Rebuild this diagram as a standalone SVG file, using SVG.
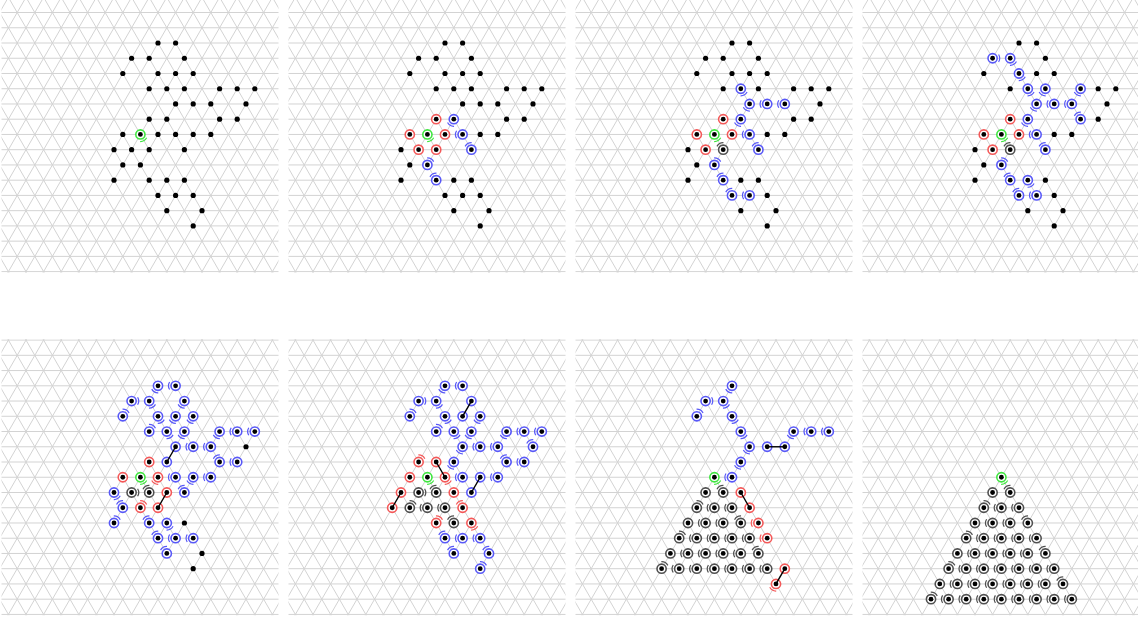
<svg xmlns="http://www.w3.org/2000/svg" xmlns:xlink="http://www.w3.org/1999/xlink" width="1138" height="621" viewBox="0 0 1138 621">
<style>
.gl{fill:none;stroke:#d3d3d3;stroke-width:1}
.rb{fill:#fff;stroke:#5858f8;stroke-width:1.6}
.rr{fill:#fff;stroke:#f45858;stroke-width:1.6}
.rg{fill:#fff;stroke:#3ee63e;stroke-width:1.6}
.rk{fill:#fff;stroke:#505050;stroke-width:1.6}
.mb{fill:none;stroke:#5858f8;stroke-width:1.2}
.mr{fill:none;stroke:#f45858;stroke-width:1.2}
.mg{fill:none;stroke:#3ee63e;stroke-width:1.2}
.mk{fill:none;stroke:#505050;stroke-width:1.2}
.cn{stroke:#000;stroke-width:1.4;fill:none}
</style>
<defs>
<clipPath id="gc" clipPathUnits="userSpaceOnUse"><rect x="-156.5" y="-46.6" width="277" height="276"/></clipPath>
<path id="la" d="M-27.28,-47.25L132.88,230.15"/>
<path id="lb" d="M27.28,-47.25L-132.88,230.15"/>
<g id="gA"><use href="#la"/><use href="#la" x="17.6"/><use href="#la" x="35.2"/><use href="#la" x="52.8"/><use href="#la" x="70.4"/></g>
<g id="gB"><use href="#lb"/><use href="#lb" x="17.6"/><use href="#lb" x="35.2"/><use href="#lb" x="52.8"/><use href="#lb" x="70.4"/></g>
<g id="grid" class="gl" clip-path="url(#gc)">
<path d="M-157 -45.73H121M-157 -30.48H121M-157 -15.24H121M-157 0H121M-157 15.24H121M-157 30.48H121M-157 45.73H121M-157 60.97H121M-157 76.21H121M-157 91.45H121M-157 106.69H121M-157 121.94H121M-157 137.18H121M-157 152.42H121M-157 167.66H121M-157 182.9H121M-157 198.15H121M-157 213.39H121M-157 228.63H121"/>
<use href="#gA" x="-281.6"/><use href="#gA" x="-193.6"/><use href="#gA" x="-105.6"/><use href="#gA" x="-17.6"/><use href="#gA" x="70.4"/>
<use href="#gB" x="-176"/><use href="#gB" x="-88"/><use href="#gB" x="0"/><use href="#gB" x="88"/><use href="#gB" x="176"/>
</g>
<circle id="D" r="2.6"/>
<g id="B"><circle r="4.6" class="rb"/><circle r="2.4"/></g>
<g id="R"><circle r="4.6" class="rr"/><circle r="2.4"/></g>
<g id="G"><circle r="4.6" class="rg"/><circle r="2.4"/></g>
<g id="K"><circle r="4.6" class="rk"/><circle r="2.4"/></g>
<path id="m" d="M6,-3.75A7.1,7.1 0 0 1 6,3.75"/>
<g id="BE"><use href="#B"/><use href="#m" class="mb"/></g>
<g id="BSE"><use href="#B"/><use href="#m" class="mb" transform="rotate(60)"/></g>
<g id="BSW"><use href="#B"/><use href="#m" class="mb" transform="rotate(120)"/></g>
<g id="BW"><use href="#B"/><use href="#m" class="mb" transform="rotate(180)"/></g>
<g id="BNW"><use href="#B"/><use href="#m" class="mb" transform="rotate(240)"/></g>
<g id="BNE"><use href="#B"/><use href="#m" class="mb" transform="rotate(300)"/></g>
<g id="RSE"><use href="#R"/><use href="#m" class="mr" transform="rotate(60)"/></g>
<g id="RSW"><use href="#R"/><use href="#m" class="mr" transform="rotate(120)"/></g>
<g id="RW"><use href="#R"/><use href="#m" class="mr" transform="rotate(180)"/></g>
<g id="RNW"><use href="#R"/><use href="#m" class="mr" transform="rotate(240)"/></g>
<g id="RNE"><use href="#R"/><use href="#m" class="mr" transform="rotate(300)"/></g>
<g id="GSE"><use href="#G"/><use href="#m" class="mg" transform="rotate(60)"/></g>
<g id="KE"><use href="#K"/><use href="#m" class="mk"/></g>
<g id="KW"><use href="#K"/><use href="#m" class="mk" transform="rotate(180)"/></g>
<g id="KNW"><use href="#K"/><use href="#m" class="mk" transform="rotate(240)"/></g>
<g id="KNE"><use href="#K"/><use href="#m" class="mk" transform="rotate(300)"/></g>
</defs>
<rect width="1138" height="621" fill="#fff"/>
<g id="grids">
<use href="#grid" x="158" y="43"/><use href="#grid" x="445" y="43"/><use href="#grid" x="732" y="43"/><use href="#grid" x="1019" y="43"/>
<use href="#grid" x="158" y="385.8"/><use href="#grid" x="445" y="385.8"/><use href="#grid" x="732" y="385.8"/><use href="#grid" x="1019" y="385.8"/>
</g>
<g id="panel1" transform="translate(158,43)">
<g id="a1"><use href="#D" x="0" y="0"/></g><g id="a2"><use href="#D" x="17.6" y="0"/></g>
<g id="a3"><use href="#D" x="-26.4" y="15.24"/></g><g id="a4"><use href="#D" x="-8.8" y="15.24"/></g><g id="a5"><use href="#D" x="26.4" y="15.24"/></g>
<g id="a6"><use href="#D" x="-35.2" y="30.48"/></g><g id="a7"><use href="#D" x="0" y="30.48"/></g><g id="a8"><use href="#D" x="17.6" y="30.48"/></g><g id="a9"><use href="#D" x="35.2" y="30.48"/></g>
<g id="a10"><use href="#D" x="-8.8" y="45.73"/></g><g id="a11"><use href="#D" x="8.8" y="45.73"/></g><g id="a12"><use href="#D" x="26.4" y="45.73"/></g><g id="a13"><use href="#D" x="61.6" y="45.73"/></g><g id="a14"><use href="#D" x="79.2" y="45.73"/></g><g id="a15"><use href="#D" x="96.8" y="45.73"/></g>
<g id="a16"><use href="#D" x="17.6" y="60.97"/></g><g id="a17"><use href="#D" x="35.2" y="60.97"/></g><g id="a18"><use href="#D" x="52.8" y="60.97"/></g><g id="a19"><use href="#D" x="88" y="60.97"/></g>
<g id="a20"><use href="#D" x="-8.8" y="76.21"/></g><g id="a21"><use href="#D" x="8.8" y="76.21"/></g><g id="a22"><use href="#D" x="61.6" y="76.21"/></g><g id="a23"><use href="#D" x="79.2" y="76.21"/></g>
<g id="a24"><use href="#D" x="-35.2" y="91.45"/></g><g id="a25"><use href="#GSE" x="-17.6" y="91.45"/></g><g id="a26"><use href="#D" x="0" y="91.45"/></g><g id="a27"><use href="#D" x="17.6" y="91.45"/></g><g id="a28"><use href="#D" x="35.2" y="91.45"/></g><g id="a29"><use href="#D" x="52.8" y="91.45"/></g>
<g id="a30"><use href="#D" x="-44" y="106.69"/></g><g id="a31"><use href="#D" x="-26.4" y="106.69"/></g><g id="a32"><use href="#D" x="-8.8" y="106.69"/></g><g id="a33"><use href="#D" x="26.4" y="106.69"/></g>
<g id="a34"><use href="#D" x="-35.2" y="121.94"/></g><g id="a35"><use href="#D" x="-17.6" y="121.94"/></g>
<g id="a36"><use href="#D" x="-44" y="137.18"/></g><g id="a37"><use href="#D" x="-8.8" y="137.18"/></g><g id="a38"><use href="#D" x="8.8" y="137.18"/></g><g id="a39"><use href="#D" x="26.4" y="137.18"/></g>
<g id="a40"><use href="#D" x="0" y="152.42"/></g><g id="a41"><use href="#D" x="17.6" y="152.42"/></g><g id="a42"><use href="#D" x="35.2" y="152.42"/></g>
<g id="a43"><use href="#D" x="8.8" y="167.66"/></g><g id="a44"><use href="#D" x="44" y="167.66"/></g>
<g id="a45"><use href="#D" x="35.2" y="182.9"/></g>
</g>
<g id="panel2" transform="translate(445,43)">
<g id="b1"><use href="#D" x="0" y="0"/></g><g id="b2"><use href="#D" x="17.6" y="0"/></g>
<g id="b3"><use href="#D" x="-26.4" y="15.24"/></g><g id="b4"><use href="#D" x="-8.8" y="15.24"/></g><g id="b5"><use href="#D" x="26.4" y="15.24"/></g>
<g id="b6"><use href="#D" x="-35.2" y="30.48"/></g><g id="b7"><use href="#D" x="0" y="30.48"/></g><g id="b8"><use href="#D" x="17.6" y="30.48"/></g><g id="b9"><use href="#D" x="35.2" y="30.48"/></g>
<g id="b10"><use href="#D" x="-8.8" y="45.73"/></g><g id="b11"><use href="#D" x="8.8" y="45.73"/></g><g id="b12"><use href="#D" x="26.4" y="45.73"/></g><g id="b13"><use href="#D" x="61.6" y="45.73"/></g><g id="b14"><use href="#D" x="79.2" y="45.73"/></g><g id="b15"><use href="#D" x="96.8" y="45.73"/></g>
<g id="b16"><use href="#D" x="17.6" y="60.97"/></g><g id="b17"><use href="#D" x="35.2" y="60.97"/></g><g id="b18"><use href="#D" x="52.8" y="60.97"/></g><g id="b19"><use href="#D" x="88" y="60.97"/></g>
<g id="b20"><use href="#R" x="-8.8" y="76.21"/></g><g id="b21"><use href="#BSW" x="8.8" y="76.21"/></g><g id="b22"><use href="#D" x="61.6" y="76.21"/></g><g id="b23"><use href="#D" x="79.2" y="76.21"/></g>
<g id="b24"><use href="#R" x="-35.2" y="91.45"/></g><g id="b25"><use href="#GSE" x="-17.6" y="91.45"/></g><g id="b26"><use href="#R" x="0" y="91.45"/></g><g id="b27"><use href="#BW" x="17.6" y="91.45"/></g><g id="b28"><use href="#D" x="35.2" y="91.45"/></g><g id="b29"><use href="#D" x="52.8" y="91.45"/></g>
<g id="b30"><use href="#D" x="-44" y="106.69"/></g><g id="b31"><use href="#R" x="-26.4" y="106.69"/></g><g id="b32"><use href="#R" x="-8.8" y="106.69"/></g><g id="b33"><use href="#BNW" x="26.4" y="106.69"/></g>
<g id="b34"><use href="#D" x="-35.2" y="121.94"/></g><g id="b35"><use href="#BNE" x="-17.6" y="121.94"/></g>
<g id="b36"><use href="#D" x="-44" y="137.18"/></g><g id="b37"><use href="#BNW" x="-8.8" y="137.18"/></g><g id="b38"><use href="#D" x="8.8" y="137.18"/></g><g id="b39"><use href="#D" x="26.4" y="137.18"/></g>
<g id="b40"><use href="#D" x="0" y="152.42"/></g><g id="b41"><use href="#D" x="17.6" y="152.42"/></g><g id="b42"><use href="#D" x="35.2" y="152.42"/></g>
<g id="b43"><use href="#D" x="8.8" y="167.66"/></g><g id="b44"><use href="#D" x="44" y="167.66"/></g>
<g id="b45"><use href="#D" x="35.2" y="182.9"/></g>
</g>
<g id="panel3" transform="translate(732,43)">
<g id="c1"><use href="#D" x="0" y="0"/></g><g id="c2"><use href="#D" x="17.6" y="0"/></g>
<g id="c3"><use href="#D" x="-26.4" y="15.24"/></g><g id="c4"><use href="#D" x="-8.8" y="15.24"/></g><g id="c5"><use href="#D" x="26.4" y="15.24"/></g>
<g id="c6"><use href="#D" x="-35.2" y="30.48"/></g><g id="c7"><use href="#D" x="0" y="30.48"/></g><g id="c8"><use href="#D" x="17.6" y="30.48"/></g><g id="c9"><use href="#D" x="35.2" y="30.48"/></g>
<g id="c10"><use href="#D" x="-8.8" y="45.73"/></g><g id="c11"><use href="#BSE" x="8.8" y="45.73"/></g><g id="c12"><use href="#D" x="26.4" y="45.73"/></g><g id="c13"><use href="#D" x="61.6" y="45.73"/></g><g id="c14"><use href="#D" x="79.2" y="45.73"/></g><g id="c15"><use href="#D" x="96.8" y="45.73"/></g>
<g id="c16"><use href="#BSW" x="17.6" y="60.97"/></g><g id="c17"><use href="#BW" x="35.2" y="60.97"/></g><g id="c18"><use href="#BW" x="52.8" y="60.97"/></g><g id="c19"><use href="#D" x="88" y="60.97"/></g>
<g id="c20"><use href="#R" x="-8.8" y="76.21"/></g><g id="c21"><use href="#BSW" x="8.8" y="76.21"/></g><g id="c22"><use href="#D" x="61.6" y="76.21"/></g><g id="c23"><use href="#D" x="79.2" y="76.21"/></g>
<g id="c24"><use href="#R" x="-35.2" y="91.45"/></g><g id="c25"><use href="#GSE" x="-17.6" y="91.45"/></g><g id="c26"><use href="#R" x="0" y="91.45"/></g><g id="c27"><use href="#BW" x="17.6" y="91.45"/></g><g id="c28"><use href="#D" x="35.2" y="91.45"/></g><g id="c29"><use href="#D" x="52.8" y="91.45"/></g>
<g id="c30"><use href="#D" x="-44" y="106.69"/></g><g id="c31"><use href="#R" x="-26.4" y="106.69"/></g><g id="c32"><use href="#KNW" x="-8.8" y="106.69"/></g><g id="c33"><use href="#BNW" x="26.4" y="106.69"/></g>
<g id="c34"><use href="#D" x="-35.2" y="121.94"/></g><g id="c35"><use href="#BNE" x="-17.6" y="121.94"/></g>
<g id="c36"><use href="#D" x="-44" y="137.18"/></g><g id="c37"><use href="#BNW" x="-8.8" y="137.18"/></g><g id="c38"><use href="#D" x="8.8" y="137.18"/></g><g id="c39"><use href="#D" x="26.4" y="137.18"/></g>
<g id="c40"><use href="#BNW" x="0" y="152.42"/></g><g id="c41"><use href="#BW" x="17.6" y="152.42"/></g><g id="c42"><use href="#D" x="35.2" y="152.42"/></g>
<g id="c43"><use href="#D" x="8.8" y="167.66"/></g><g id="c44"><use href="#D" x="44" y="167.66"/></g>
<g id="c45"><use href="#D" x="35.2" y="182.9"/></g>
</g>
<g id="panel4" transform="translate(1019,43)">
<g id="d1"><use href="#D" x="0" y="0"/></g><g id="d2"><use href="#D" x="17.6" y="0"/></g>
<g id="d3"><use href="#BE" x="-26.4" y="15.24"/></g><g id="d4"><use href="#BSE" x="-8.8" y="15.24"/></g><g id="d5"><use href="#D" x="26.4" y="15.24"/></g>
<g id="d6"><use href="#D" x="-35.2" y="30.48"/></g><g id="d7"><use href="#BSE" x="0" y="30.48"/></g><g id="d8"><use href="#D" x="17.6" y="30.48"/></g><g id="d9"><use href="#D" x="35.2" y="30.48"/></g>
<g id="d10"><use href="#D" x="-8.8" y="45.73"/></g><g id="d11"><use href="#BSE" x="8.8" y="45.73"/></g><g id="d12"><use href="#BSW" x="26.4" y="45.73"/></g><g id="d13"><use href="#BSW" x="61.6" y="45.73"/></g><g id="d14"><use href="#D" x="79.2" y="45.73"/></g><g id="d15"><use href="#D" x="96.8" y="45.73"/></g>
<g id="d16"><use href="#BSW" x="17.6" y="60.97"/></g><g id="d17"><use href="#BW" x="35.2" y="60.97"/></g><g id="d18"><use href="#BW" x="52.8" y="60.97"/></g><g id="d19"><use href="#D" x="88" y="60.97"/></g>
<g id="d20"><use href="#R" x="-8.8" y="76.21"/></g><g id="d21"><use href="#BSW" x="8.8" y="76.21"/></g><g id="d22"><use href="#BNW" x="61.6" y="76.21"/></g><g id="d23"><use href="#D" x="79.2" y="76.21"/></g>
<g id="d24"><use href="#R" x="-35.2" y="91.45"/></g><g id="d25"><use href="#GSE" x="-17.6" y="91.45"/></g><g id="d26"><use href="#R" x="0" y="91.45"/></g><g id="d27"><use href="#BW" x="17.6" y="91.45"/></g><g id="d28"><use href="#D" x="35.2" y="91.45"/></g><g id="d29"><use href="#D" x="52.8" y="91.45"/></g>
<g id="d30"><use href="#D" x="-44" y="106.69"/></g><g id="d31"><use href="#R" x="-26.4" y="106.69"/></g><g id="d32"><use href="#KNW" x="-8.8" y="106.69"/></g><g id="d33"><use href="#BNW" x="26.4" y="106.69"/></g>
<g id="d34"><use href="#D" x="-35.2" y="121.94"/></g><g id="d35"><use href="#BNE" x="-17.6" y="121.94"/></g>
<g id="d36"><use href="#D" x="-44" y="137.18"/></g><g id="d37"><use href="#BNW" x="-8.8" y="137.18"/></g><g id="d38"><use href="#BSE" x="8.8" y="137.18"/></g><g id="d39"><use href="#D" x="26.4" y="137.18"/></g>
<g id="d40"><use href="#BNW" x="0" y="152.42"/></g><g id="d41"><use href="#BW" x="17.6" y="152.42"/></g><g id="d42"><use href="#D" x="35.2" y="152.42"/></g>
<g id="d43"><use href="#D" x="8.8" y="167.66"/></g><g id="d44"><use href="#D" x="44" y="167.66"/></g>
<g id="d45"><use href="#D" x="35.2" y="182.9"/></g>
</g>
<g id="panel5" transform="translate(158,385.8)">
<g id="e1"><use href="#BSW" x="0" y="0"/></g><g id="e2"><use href="#BW" x="17.6" y="0"/></g>
<g id="e3"><use href="#BE" x="-26.4" y="15.24"/></g><g id="e4"><use href="#BSE" x="-8.8" y="15.24"/></g><g id="e5"><use href="#BSW" x="26.4" y="15.24"/></g>
<g id="e6"><use href="#BNE" x="-35.2" y="30.48"/></g><g id="e7"><use href="#BSE" x="0" y="30.48"/></g><g id="e8"><use href="#BSW" x="17.6" y="30.48"/></g><g id="e9"><use href="#BSW" x="35.2" y="30.48"/></g>
<g id="e10"><use href="#BNE" x="-8.8" y="45.73"/></g><g id="e11"><use href="#BSE" x="8.8" y="45.73"/></g><g id="e12"><use href="#BSW" x="26.4" y="45.73"/></g><g id="e13"><use href="#BSW" x="61.6" y="45.73"/></g><g id="e14"><use href="#BW" x="79.2" y="45.73"/></g><g id="e15"><use href="#BW" x="96.8" y="45.73"/></g>
<g id="e16"><use href="#B" x="17.6" y="60.97"/></g><g id="e17"><use href="#BW" x="35.2" y="60.97"/></g><g id="e18"><use href="#BW" x="52.8" y="60.97"/></g><g id="e19"><use href="#D" x="88" y="60.97"/></g>
<g id="e20"><use href="#R" x="-8.8" y="76.21"/></g><g id="e21"><use href="#B" x="8.8" y="76.21"/></g><g id="e22"><use href="#BNW" x="61.6" y="76.21"/></g><g id="e23"><use href="#BW" x="79.2" y="76.21"/></g>
<g id="e24"><use href="#R" x="-35.2" y="91.45"/></g><g id="e25"><use href="#GSE" x="-17.6" y="91.45"/></g><g id="e26"><use href="#RSW" x="0" y="91.45"/></g><g id="e27"><use href="#BW" x="17.6" y="91.45"/></g><g id="e28"><use href="#BSW" x="35.2" y="91.45"/></g><g id="e29"><use href="#BW" x="52.8" y="91.45"/></g>
<g id="e30"><use href="#BSE" x="-44" y="106.69"/></g><g id="e31"><use href="#KE" x="-26.4" y="106.69"/></g><g id="e32"><use href="#KNW" x="-8.8" y="106.69"/></g><g id="e33"><use href="#R" x="8.8" y="106.69"/></g><g id="e34"><use href="#BNW" x="26.4" y="106.69"/></g>
<g id="e35"><use href="#BNW" x="-35.2" y="121.94"/></g><g id="e36"><use href="#RNE" x="-17.6" y="121.94"/></g><g id="e37"><use href="#R" x="0" y="121.94"/></g>
<g id="e38"><use href="#BNE" x="-44" y="137.18"/></g><g id="e39"><use href="#BNW" x="-8.8" y="137.18"/></g><g id="e40"><use href="#BSE" x="8.8" y="137.18"/></g><g id="e41"><use href="#D" x="26.4" y="137.18"/></g>
<g id="e42"><use href="#BNW" x="0" y="152.42"/></g><g id="e43"><use href="#BW" x="17.6" y="152.42"/></g><g id="e44"><use href="#BW" x="35.2" y="152.42"/></g>
<g id="e45"><use href="#BNW" x="8.8" y="167.66"/></g><g id="e46"><use href="#D" x="44" y="167.66"/></g>
<g id="e47"><use href="#D" x="35.2" y="182.9"/></g>
</g>
<g id="panel6" transform="translate(445,385.8)">
<g id="f1"><use href="#BSW" x="0" y="0"/></g><g id="f2"><use href="#BW" x="17.6" y="0"/></g>
<g id="f3"><use href="#BE" x="-26.4" y="15.24"/></g><g id="f4"><use href="#BSE" x="-8.8" y="15.24"/></g><g id="f5"><use href="#B" x="26.4" y="15.24"/></g>
<g id="f6"><use href="#BNE" x="-35.2" y="30.48"/></g><g id="f7"><use href="#BSE" x="0" y="30.48"/></g><g id="f8"><use href="#B" x="17.6" y="30.48"/></g><g id="f9"><use href="#BSW" x="35.2" y="30.48"/></g>
<g id="f10"><use href="#BNE" x="-8.8" y="45.73"/></g><g id="f11"><use href="#BSE" x="8.8" y="45.73"/></g><g id="f12"><use href="#BSW" x="26.4" y="45.73"/></g><g id="f13"><use href="#BSW" x="61.6" y="45.73"/></g><g id="f14"><use href="#BW" x="79.2" y="45.73"/></g><g id="f15"><use href="#BW" x="96.8" y="45.73"/></g>
<g id="f16"><use href="#BSW" x="17.6" y="60.97"/></g><g id="f17"><use href="#BW" x="35.2" y="60.97"/></g><g id="f18"><use href="#BW" x="52.8" y="60.97"/></g><g id="f19"><use href="#BNW" x="88" y="60.97"/></g>
<g id="f20"><use href="#RNE" x="-26.4" y="76.21"/></g><g id="f21"><use href="#R" x="-8.8" y="76.21"/></g><g id="f22"><use href="#BSW" x="8.8" y="76.21"/></g><g id="f23"><use href="#BNW" x="61.6" y="76.21"/></g><g id="f24"><use href="#BW" x="79.2" y="76.21"/></g>
<g id="f25"><use href="#R" x="-35.2" y="91.45"/></g><g id="f26"><use href="#GSE" x="-17.6" y="91.45"/></g><g id="f27"><use href="#RSE" x="0" y="91.45"/></g><g id="f28"><use href="#BW" x="17.6" y="91.45"/></g><g id="f29"><use href="#B" x="35.2" y="91.45"/></g><g id="f30"><use href="#BW" x="52.8" y="91.45"/></g>
<g id="f31"><use href="#R" x="-44" y="106.69"/></g><g id="f32"><use href="#KE" x="-26.4" y="106.69"/></g><g id="f33"><use href="#KNW" x="-8.8" y="106.69"/></g><g id="f34"><use href="#R" x="8.8" y="106.69"/></g><g id="f35"><use href="#B" x="26.4" y="106.69"/></g>
<g id="f36"><use href="#R" x="-52.8" y="121.94"/></g><g id="f37"><use href="#KNE" x="-35.2" y="121.94"/></g><g id="f38"><use href="#KW" x="-17.6" y="121.94"/></g><g id="f39"><use href="#KW" x="0" y="121.94"/></g><g id="f40"><use href="#RNW" x="17.6" y="121.94"/></g>
<g id="f41"><use href="#RNE" x="-8.8" y="137.18"/></g><g id="f42"><use href="#KNW" x="8.8" y="137.18"/></g><g id="f43"><use href="#RSE" x="26.4" y="137.18"/></g>
<g id="f44"><use href="#BNW" x="0" y="152.42"/></g><g id="f45"><use href="#BW" x="17.6" y="152.42"/></g><g id="f46"><use href="#BW" x="35.2" y="152.42"/></g>
<g id="f47"><use href="#BNW" x="8.8" y="167.66"/></g><g id="f48"><use href="#BNW" x="44" y="167.66"/></g>
<g id="f49"><use href="#BNE" x="35.2" y="182.9"/></g>
</g>
<g id="panel7" transform="translate(732,385.8)">
<g id="g1"><use href="#BSW" x="0" y="0"/></g>
<g id="g2"><use href="#BE" x="-26.4" y="15.24"/></g><g id="g3"><use href="#BSE" x="-8.8" y="15.24"/></g>
<g id="g4"><use href="#BNE" x="-35.2" y="30.48"/></g><g id="g5"><use href="#BSE" x="0" y="30.48"/></g>
<g id="g6"><use href="#BSE" x="8.8" y="45.73"/></g><g id="g7"><use href="#BSW" x="61.6" y="45.73"/></g><g id="g8"><use href="#BW" x="79.2" y="45.73"/></g><g id="g9"><use href="#BW" x="96.8" y="45.73"/></g>
<g id="g10"><use href="#BSW" x="17.6" y="60.97"/></g><g id="g11"><use href="#B" x="35.2" y="60.97"/></g><g id="g12"><use href="#B" x="52.8" y="60.97"/></g>
<g id="g13"><use href="#BSW" x="8.8" y="76.21"/></g>
<g id="g14"><use href="#GSE" x="-17.6" y="91.45"/></g><g id="g15"><use href="#BW" x="0" y="91.45"/></g>
<g id="g16"><use href="#K" x="-26.4" y="106.69"/></g><g id="g17"><use href="#KNW" x="-8.8" y="106.69"/></g><g id="g18"><use href="#R" x="8.8" y="106.69"/></g>
<g id="g19"><use href="#KNE" x="-35.2" y="121.94"/></g><g id="g20"><use href="#KW" x="-17.6" y="121.94"/></g><g id="g21"><use href="#KW" x="0" y="121.94"/></g><g id="g22"><use href="#R" x="17.6" y="121.94"/></g>
<g id="g23"><use href="#K" x="-44" y="137.18"/></g><g id="g24"><use href="#KW" x="-26.4" y="137.18"/></g><g id="g25"><use href="#KW" x="-8.8" y="137.18"/></g><g id="g26"><use href="#KNW" x="8.8" y="137.18"/></g><g id="g27"><use href="#RW" x="26.4" y="137.18"/></g>
<g id="g28"><use href="#KNE" x="-52.8" y="152.42"/></g><g id="g29"><use href="#KW" x="-35.2" y="152.42"/></g><g id="g30"><use href="#KW" x="-17.6" y="152.42"/></g><g id="g31"><use href="#KW" x="0" y="152.42"/></g><g id="g32"><use href="#KW" x="17.6" y="152.42"/></g><g id="g33"><use href="#RW" x="35.2" y="152.42"/></g>
<g id="g34"><use href="#K" x="-61.6" y="167.66"/></g><g id="g35"><use href="#KW" x="-44" y="167.66"/></g><g id="g36"><use href="#KW" x="-26.4" y="167.66"/></g><g id="g37"><use href="#KW" x="-8.8" y="167.66"/></g><g id="g38"><use href="#KW" x="8.8" y="167.66"/></g><g id="g39"><use href="#KNW" x="26.4" y="167.66"/></g>
<g id="g40"><use href="#KNE" x="-70.4" y="182.9"/></g><g id="g41"><use href="#KW" x="-52.8" y="182.9"/></g><g id="g42"><use href="#KW" x="-35.2" y="182.9"/></g><g id="g43"><use href="#KW" x="-17.6" y="182.9"/></g><g id="g44"><use href="#KW" x="0" y="182.9"/></g><g id="g45"><use href="#KW" x="17.6" y="182.9"/></g><g id="g46"><use href="#KW" x="35.2" y="182.9"/></g><g id="g47"><use href="#R" x="52.8" y="182.9"/></g>
<g id="g48"><use href="#RSW" x="44" y="198.15"/></g>
</g>
<g id="panel8" transform="translate(1019,385.8)">
<g id="h1"><use href="#GSE" x="-17.6" y="91.45"/></g>
<g id="h2"><use href="#K" x="-26.4" y="106.69"/></g><g id="h3"><use href="#KNW" x="-8.8" y="106.69"/></g>
<g id="h4"><use href="#KNE" x="-35.2" y="121.94"/></g><g id="h5"><use href="#KW" x="-17.6" y="121.94"/></g><g id="h6"><use href="#KW" x="0" y="121.94"/></g>
<g id="h7"><use href="#K" x="-44" y="137.18"/></g><g id="h8"><use href="#KW" x="-26.4" y="137.18"/></g><g id="h9"><use href="#KW" x="-8.8" y="137.18"/></g><g id="h10"><use href="#KNW" x="8.8" y="137.18"/></g>
<g id="h11"><use href="#KNE" x="-52.8" y="152.42"/></g><g id="h12"><use href="#KW" x="-35.2" y="152.42"/></g><g id="h13"><use href="#KW" x="-17.6" y="152.42"/></g><g id="h14"><use href="#KW" x="0" y="152.42"/></g><g id="h15"><use href="#KW" x="17.6" y="152.42"/></g>
<g id="h16"><use href="#K" x="-61.6" y="167.66"/></g><g id="h17"><use href="#KW" x="-44" y="167.66"/></g><g id="h18"><use href="#KW" x="-26.4" y="167.66"/></g><g id="h19"><use href="#KW" x="-8.8" y="167.66"/></g><g id="h20"><use href="#KW" x="8.8" y="167.66"/></g><g id="h21"><use href="#KNW" x="26.4" y="167.66"/></g>
<g id="h22"><use href="#KNE" x="-70.4" y="182.9"/></g><g id="h23"><use href="#KW" x="-52.8" y="182.9"/></g><g id="h24"><use href="#KW" x="-35.2" y="182.9"/></g><g id="h25"><use href="#KW" x="-17.6" y="182.9"/></g><g id="h26"><use href="#KW" x="0" y="182.9"/></g><g id="h27"><use href="#KW" x="17.6" y="182.9"/></g><g id="h28"><use href="#KW" x="35.2" y="182.9"/></g>
<g id="h29"><use href="#K" x="-79.2" y="198.15"/></g><g id="h30"><use href="#KW" x="-61.6" y="198.15"/></g><g id="h31"><use href="#KW" x="-44" y="198.15"/></g><g id="h32"><use href="#KW" x="-26.4" y="198.15"/></g><g id="h33"><use href="#KW" x="-8.8" y="198.15"/></g><g id="h34"><use href="#KW" x="8.8" y="198.15"/></g><g id="h35"><use href="#KW" x="26.4" y="198.15"/></g><g id="h36"><use href="#KNW" x="44" y="198.15"/></g>
<g id="h37"><use href="#KNE" x="-88" y="213.39"/></g><g id="h38"><use href="#KW" x="-70.4" y="213.39"/></g><g id="h39"><use href="#KW" x="-52.8" y="213.39"/></g><g id="h40"><use href="#KW" x="-35.2" y="213.39"/></g><g id="h41"><use href="#KW" x="-17.6" y="213.39"/></g><g id="h42"><use href="#KW" x="0" y="213.39"/></g><g id="h43"><use href="#KW" x="17.6" y="213.39"/></g><g id="h44"><use href="#KW" x="35.2" y="213.39"/></g><g id="h45"><use href="#KW" x="52.8" y="213.39"/></g>
</g>
<g id="connectors" class="cn">
<line x1="175.6" y1="446.77" x2="166.8" y2="462.01"/>
<line x1="166.8" y1="492.49" x2="158" y2="507.74"/>
<line x1="471.4" y1="401.04" x2="462.6" y2="416.28"/>
<line x1="436.2" y1="462.01" x2="445" y2="477.25"/>
<line x1="480.2" y1="477.25" x2="471.4" y2="492.49"/>
<line x1="401" y1="492.49" x2="392.2" y2="507.74"/>
<line x1="767.2" y1="446.77" x2="784.8" y2="446.77"/>
<line x1="740.8" y1="492.49" x2="749.6" y2="507.74"/>
<line x1="784.8" y1="568.7" x2="776" y2="583.95"/>
</g>
</svg>
